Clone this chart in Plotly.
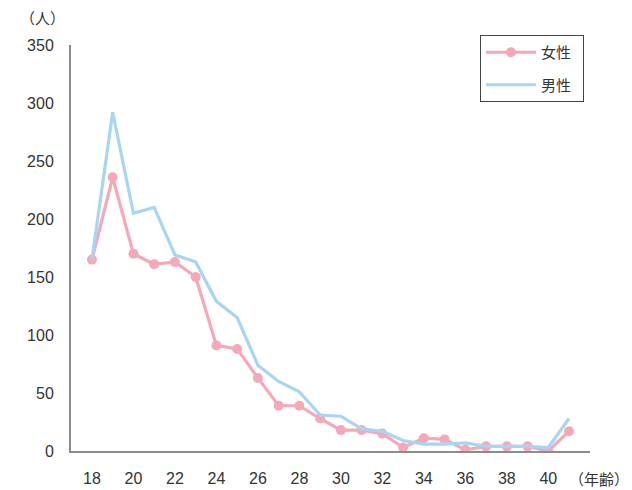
import plotly.graph_objects as go

ages = list(range(18, 42))
female = [165, 236, 170, 161, 163, 150, 91, 88, 63, 39, 39, 28, 18, 18, 15, 3, 11, 10, 1, 4, 4, 4, 0, 17]
male = [165, 292, 205, 210, 169, 163, 129, 115, 74, 60, 51, 31, 30, 19, 17, 9, 6, 6, 7, 4, 4, 4, 3, 28]
x_ticks = list(range(18, 41, 2))
y_ticks = list(range(0, 351, 50))

PINK = "#F5A9B8"
BLUE = "#A7D5F2"
FONT = "Liberation Sans, Noto Sans CJK JP, sans-serif"

fig = go.Figure()
fig.add_trace(go.Scatter(x=ages, y=female, mode="lines+markers", name="女性&nbsp;&nbsp;",
                         line=dict(color=PINK, width=3.2), marker=dict(color=PINK, size=10),
                         legendgroup="f"))
fig.add_trace(go.Scatter(x=ages, y=male, mode="lines", name="男性&nbsp;&nbsp;",
                         line=dict(color=BLUE, width=3.2), legendgroup="m"))

fig.update_layout(
    width=632, height=490,
    margin=dict(l=71, r=42, t=45, b=39),
    plot_bgcolor="white", paper_bgcolor="white",
    font=dict(family=FONT, size=15, color="#333333"),
    xaxis=dict(range=[16.99, 42.01], tickvals=x_ticks, showgrid=False, zeroline=False,
               showline=True, linecolor="#8c8c8c", linewidth=2, automargin=False,
               ticks="outside", ticklen=12, tickcolor="rgba(0,0,0,0)",
               tickfont=dict(size=16, color="#333333")),
    yaxis=dict(range=[0, 350], tickvals=y_ticks, showgrid=False, zeroline=False,
               showline=True, linecolor="#8c8c8c", linewidth=2, automargin=False,
               ticks="outside", ticklen=12, tickcolor="rgba(0,0,0,0)",
               tickfont=dict(size=16, color="#333333")),
    legend=dict(x=0.788, y=1.0246, xanchor="left", yanchor="top",
                bordercolor="#444444", borderwidth=1, bgcolor="white",
                font=dict(size=15, color="#333333", family="Noto Sans CJK JP"),
                tracegroupgap=10, itemwidth=50),
    showlegend=True,
)

fig.add_annotation(text="（人）", x=(42 - 71) / 519, y=(451 - 17) / 406, xref="paper", yref="paper",
                   xanchor="center", yanchor="middle", showarrow=False,
                   font=dict(size=15, color="#333333", family="Noto Sans CJK JP"))
fig.add_annotation(text="（年齢）", x=(631 - 71) / 519, y=(451 - 478) / 406, xref="paper", yref="paper",
                   xanchor="right", yanchor="middle", showarrow=False,
                   font=dict(size=15, color="#333333", family="Noto Sans CJK JP"))

fig.write_html("out.html", config={"displayModeBar": False},
               post_script="document.body.style.margin='0';document.body.style.overflow='hidden';")
